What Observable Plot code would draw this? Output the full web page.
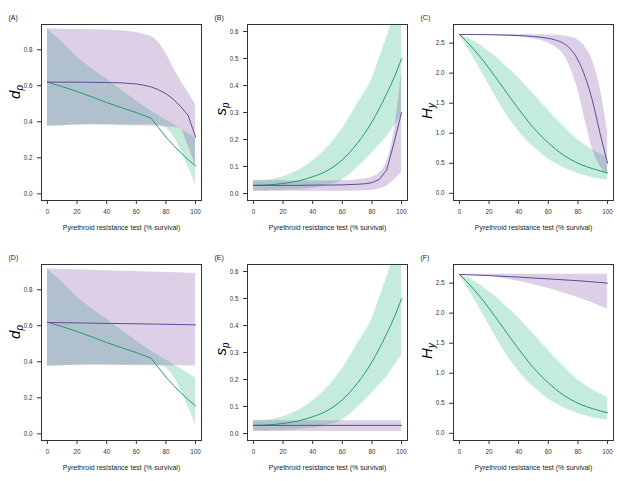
<!DOCTYPE html>
<html>
<head>
<meta charset="utf-8">
<script src="https://cdn.jsdelivr.net/npm/d3@7"></script>
<script src="https://cdn.jsdelivr.net/npm/@observablehq/plot@0.6"></script>
<style>
  html, body { margin: 0; padding: 0; background: #fff; }
  #wrap { position: relative; width: 617px; height: 481px; overflow: hidden; }
  #wrap > div { position: absolute; }
</style>
</head>
<body>
<div id="wrap"></div>
<script>
// ---------- x ticks ----------
const xTicks = [0, 20, 40, 60, 80, 100];
const xTitle = "Pyrethroid resistance test (% survival)";

// ---------- d_p (panels A, D) : green series ----------
const xDGreen   = [0, 10, 20, 30, 40, 50, 60, 70, 75, 80, 85, 90, 95, 100];
const dGreenMid = [0.62, 0.595, 0.568, 0.538, 0.507, 0.478, 0.451, 0.42, 0.367, 0.315, 0.27, 0.228, 0.19, 0.155];
const dGreenHi  = [0.915, 0.84, 0.76, 0.695, 0.636, 0.575, 0.516, 0.46, 0.435, 0.41, 0.385, 0.36, 0.335, 0.31];
const dGreenLo  = [0.375, 0.378, 0.382, 0.383, 0.383, 0.382, 0.382, 0.383, 0.38, 0.365, 0.32, 0.245, 0.15, 0.055];
// panel A purple
const xAPurple   = [0, 10, 20, 30, 40, 50, 60, 65, 70, 75, 80, 85, 90, 95, 100];
const aPurpleMid = [0.62, 0.62, 0.62, 0.619, 0.618, 0.616, 0.61, 0.603, 0.594, 0.578, 0.556, 0.525, 0.484, 0.435, 0.315];
const aPurpleHi  = [0.915, 0.914, 0.912, 0.911, 0.91, 0.905, 0.895, 0.885, 0.875, 0.84, 0.78, 0.70, 0.627, 0.562, 0.494];
const aPurpleLo  = [0.375, 0.378, 0.382, 0.383, 0.382, 0.38, 0.378, 0.377, 0.377, 0.375, 0.372, 0.37, 0.36, 0.265, 0.155];
// panel D purple
const xDPurple   = [0, 25, 50, 75, 100];
const dPurpleMid = [0.618, 0.615, 0.612, 0.609, 0.605];
const dPurpleHi  = [0.915, 0.91, 0.903, 0.897, 0.89];
const dPurpleLo  = [0.375, 0.381, 0.38, 0.378, 0.377];
const dTicks = [0, 0.2, 0.4, 0.6, 0.8];

// ---------- s_p (panels B, E) : green series ----------
const xSGreen   = [0, 10, 20, 30, 40, 50, 60, 70, 80, 85, 90, 95, 100];
const sGreenMid = [0.03, 0.032, 0.037, 0.046, 0.062, 0.085, 0.125, 0.185, 0.265, 0.315, 0.37, 0.43, 0.5];
const sGreenHi  = [0.047, 0.05, 0.062, 0.085, 0.12, 0.17, 0.24, 0.33, 0.425, 0.5, 0.58, 0.66, 0.75];
const sGreenLo  = [0.01, 0.01, 0.012, 0.015, 0.02, 0.03, 0.05, 0.095, 0.15, 0.18, 0.21, 0.25, 0.29];
// panel B purple
const xBPurple   = [0, 10, 20, 30, 40, 50, 60, 70, 75, 80, 85, 90, 95, 100];
const bPurpleMid = [0.03, 0.03, 0.03, 0.03, 0.031, 0.031, 0.032, 0.034, 0.036, 0.04, 0.052, 0.088, 0.19, 0.3];
const bPurpleHi  = [0.047, 0.047, 0.047, 0.046, 0.046, 0.046, 0.047, 0.05, 0.054, 0.06, 0.077, 0.118, 0.23, 0.45];
const bPurpleLo  = [0.008, 0.008, 0.008, 0.008, 0.008, 0.008, 0.008, 0.009, 0.01, 0.012, 0.017, 0.028, 0.05, 0.08];
// panel E purple
const xEPurple   = [0, 50, 100];
const ePurpleMid = [0.03, 0.03, 0.03];
const ePurpleHi  = [0.047, 0.047, 0.047];
const ePurpleLo  = [0.007, 0.007, 0.007];
const sTicks = [0, 0.1, 0.2, 0.3, 0.4, 0.5, 0.6];

// ---------- H_y (panels C, F) : green series ----------
const xHGreen   = [0, 10, 20, 30, 40, 50, 60, 70, 80, 90, 100];
const hGreenMid = [2.644, 2.39, 2.08, 1.74, 1.40, 1.09, 0.84, 0.64, 0.50, 0.41, 0.34];
const hGreenHi  = [2.644, 2.53, 2.36, 2.15, 1.92, 1.65, 1.38, 1.12, 0.89, 0.72, 0.60];
const hGreenLo  = [2.644, 2.24, 1.80, 1.38, 1.03, 0.77, 0.57, 0.43, 0.33, 0.26, 0.22];
// panel C purple
const xCPurple   = [0, 10, 20, 30, 40, 50, 60, 65, 70, 75, 80, 85, 90, 95, 100];
const cPurpleMid = [2.644, 2.643, 2.64, 2.635, 2.625, 2.61, 2.58, 2.55, 2.5, 2.4, 2.22, 1.93, 1.52, 0.99, 0.5];
const cPurpleHi  = [2.644, 2.644, 2.644, 2.643, 2.642, 2.64, 2.635, 2.63, 2.62, 2.6, 2.55, 2.43, 2.2, 1.75, 1.02];
const cPurpleLo  = [2.644, 2.64, 2.63, 2.615, 2.6, 2.57, 2.5, 2.43, 2.32, 2.08, 1.72, 1.2, 0.72, 0.45, 0.31];
// panel F purple
const xFPurple   = [0, 20, 40, 60, 80, 100];
const fPurpleMid = [2.644, 2.625, 2.6, 2.57, 2.54, 2.5];
const fPurpleHi  = [2.648, 2.648, 2.648, 2.648, 2.648, 2.648];
const fPurpleLo  = [2.644, 2.61, 2.53, 2.41, 2.26, 2.07];
const hTicks = [0, 0.5, 1.0, 1.5, 2.0, 2.5];

// ---------- helpers ----------
const rows = (xs, mid, lo, hi) => xs.map((x, i) => ({x, mid: mid[i], lo: lo[i], hi: hi[i]}));

const GREEN_FILL = "#c4ebdc", GREEN_LINE = "#1f9a78";
const PURPLE_FILL = "#74409c", PURPLE_LINE = "#5e4ca0";
const FONT = "'Liberation Sans', Arial, Helvetica, sans-serif";

const panels = [
  {tag: "(A)", left: 0,   top: 0,   w: 206, green: rows(xDGreen, dGreenMid, dGreenLo, dGreenHi), purple: rows(xAPurple, aPurpleMid, aPurpleLo, aPurpleHi), yDomain: [-0.037, 0.94], ticks: dTicks, main: "d", sub: "p", labY: 92, purpleCurve: "linear", greenCurve: "linear"},
  {tag: "(B)", left: 206, top: 0,   w: 206, green: rows(xSGreen, sGreenMid, sGreenLo, sGreenHi), purple: rows(xBPurple, bPurpleMid, bPurpleLo, bPurpleHi), yDomain: [-0.026, 0.626], ticks: sTicks, main: "s", sub: "p", labY: 109, purpleCurve: "linear", greenCurve: "monotone-x"},
  {tag: "(C)", left: 412, top: 0,   w: 205, green: rows(xHGreen, hGreenMid, hGreenLo, hGreenHi), purple: rows(xCPurple, cPurpleMid, cPurpleLo, cPurpleHi), yDomain: [-0.12, 2.81], ticks: hTicks, main: "H", sub: "y", labY: 111, purpleCurve: "monotone-x", greenCurve: "monotone-x"},
  {tag: "(D)", left: 0,   top: 240, w: 206, green: rows(xDGreen, dGreenMid, dGreenLo, dGreenHi), purple: rows(xDPurple, dPurpleMid, dPurpleLo, dPurpleHi), yDomain: [-0.037, 0.94], ticks: dTicks, main: "d", sub: "p", labY: 92, purpleCurve: "monotone-x", greenCurve: "linear"},
  {tag: "(E)", left: 206, top: 240, w: 206, green: rows(xSGreen, sGreenMid, sGreenLo, sGreenHi), purple: rows(xEPurple, ePurpleMid, ePurpleLo, ePurpleHi), yDomain: [-0.026, 0.626], ticks: sTicks, main: "s", sub: "p", labY: 109, purpleCurve: "linear", greenCurve: "monotone-x"},
  {tag: "(F)", left: 412, top: 240, w: 205, green: rows(xHGreen, hGreenMid, hGreenLo, hGreenHi), purple: rows(xFPurple, fPurpleMid, fPurpleLo, fPurpleHi), yDomain: [-0.12, 2.81], ticks: hTicks, main: "H", sub: "y", labY: 111, purpleCurve: "monotone-x", greenCurve: "monotone-x"}
];

const wrap = document.getElementById("wrap");

for (const p of panels) {
  const svg = Plot.plot({
    width: p.w,
    height: 240,
    marginLeft: 41,
    marginRight: p.w - 201,
    marginTop: 24,
    marginBottom: 40,
    style: {fontFamily: FONT, fontSize: "6.3px", color: "#333", background: "transparent", overflow: "visible"},
    x: {domain: [-4, 104]},
    y: {domain: p.yDomain},
    marks: [
      Plot.areaY(p.green, {x: "x", y1: "lo", y2: "hi", fill: GREEN_FILL, curve: "monotone-x", clip: true}),
      Plot.areaY(p.purple, {x: "x", y1: "lo", y2: "hi", fill: PURPLE_FILL, fillOpacity: 0.25, curve: "monotone-x", clip: true}),
      Plot.line(p.green, {x: "x", y: "mid", stroke: GREEN_LINE, strokeWidth: 1, curve: p.greenCurve, clip: true}),
      Plot.line(p.purple, {x: "x", y: "mid", stroke: PURPLE_LINE, strokeWidth: 1, curve: p.purpleCurve, clip: true}),
      Plot.frame({stroke: "#333", strokeWidth: 1}),
      Plot.axisX({ticks: xTicks, tickSize: 4, tickPadding: 5, label: null, tickFormat: d3.format("d")}),
      Plot.axisY({ticks: p.ticks, tickSize: 4, tickPadding: 5, label: null, tickFormat: d3.format(".1f")}),
      Plot.text([xTitle], {frameAnchor: "bottom", dy: 29, text: d => d, fontSize: 7, fill: "#222"}),
      Plot.text([p.tag], {frameAnchor: "top-left", dx: -33, dy: -9, text: d => d, fontSize: 7, textAnchor: "start", fill: "#222"})
    ]
  });
  // y-axis title with subscript
  const t = d3.select(svg).append("text")
    .attr("transform", `translate(20,${p.labY}) rotate(-90)`)
    .attr("text-anchor", "middle")
    .attr("font-family", FONT)
    .attr("font-style", "italic")
    .attr("font-size", 15)
    .attr("fill", "#000");
  t.append("tspan").text(p.main);
  t.append("tspan").attr("font-size", 10).attr("dy", 3).text(p.sub);

  const holder = document.createElement("div");
  holder.style.left = p.left + "px";
  holder.style.top = p.top + "px";
  holder.appendChild(svg);
  wrap.appendChild(holder);
}
</script>
</body>
</html>
